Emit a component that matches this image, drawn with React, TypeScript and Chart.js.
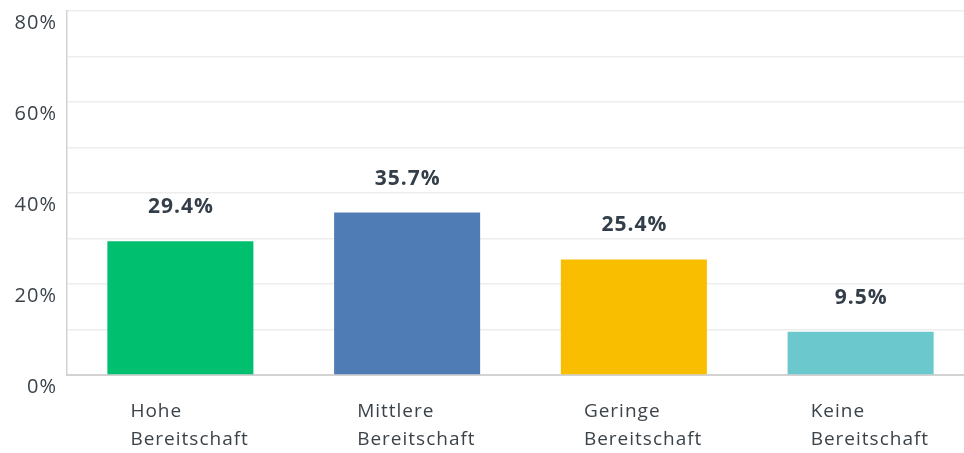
import React, { useEffect, useRef } from "react";
import { Chart, registerables } from "chart.js";

Chart.register(...registerables);

const categories: string[][] = [
  ["Hohe", "Bereitschaft"],
  ["Mittlere", "Bereitschaft"],
  ["Geringe", "Bereitschaft"],
  ["Keine", "Bereitschaft"],
];
const values: number[] = [29.4, 35.7, 25.4, 9.5];
const barColors: string[] = ["#00bf6f", "#507cb6", "#f9be00", "#6bc8cd"];
const yTickLabels: number[] = [0, 20, 40, 60, 80];

const FONT = "'Open Sans', sans-serif";
const TEXT = "#3b434a";

const spacing = {
  id: "spacing",
  beforeDraw(chart: any) {
    chart.ctx.letterSpacing = "1px";
  },
};

const valueLabels = {
  id: "valueLabels",
  afterDatasetsDraw(chart: any) {
    const ctx = chart.ctx;
    const meta = chart.getDatasetMeta(0);
    ctx.save();
    ctx.letterSpacing = "1px";
    ctx.font = `bold 21px ${FONT}`;
    ctx.fillStyle = "#333e48";
    ctx.textAlign = "center";
    ctx.textBaseline = "middle";
    meta.data.forEach((bar: any, i: number) => {
      ctx.fillText(values[i].toFixed(1) + "%", bar.x + 0.5, bar.y - 34);
    });
    ctx.restore();
  },
};

export default function App() {
  const ref = useRef<HTMLCanvasElement>(null);
  useEffect(() => {
    document.body.style.margin = "0";
    document.body.style.overflow = "hidden";
    const chart = new Chart(ref.current!, {
      type: "bar",
      data: {
        labels: categories,
        datasets: [
          {
            data: values,
            backgroundColor: barColors,
            barPercentage: 0.644,
            categoryPercentage: 1,
          },
        ],
      },
      options: {
        animation: false,
        responsive: false,
        devicePixelRatio: 1,
        layout: { padding: { top: 11, right: 0, left: 0, bottom: 0 } },
        plugins: { legend: { display: false }, tooltip: { enabled: false } },
        scales: {
          x: {
            grid: { display: false, drawTicks: false },
            border: { display: true, color: "#d2d2d2", width: 2 },
            ticks: {
              align: "start",
              labelOffset: -50,
              padding: 23,
              maxRotation: 0,
              autoSkip: false,
              color: TEXT,
              font: { family: FONT, size: 19, lineHeight: 28 / 19 },
            },
            afterFit(scale: any) {
              scale.height = 78;
              scale.paddingLeft = 0;
              scale.paddingRight = 0;
            },
          },
          y: {
            min: 0,
            max: 80,
            grid: { color: "#ededed", lineWidth: 1.5, drawTicks: false },
            border: { display: true, color: "#d2d2d2", width: 1.5 },
            ticks: {
              stepSize: 10,
              padding: 10,
              labelOffset: 12,
              color: TEXT,
              font: { family: FONT, size: 20 },
              callback: (v: any) => (yTickLabels.includes(Number(v)) ? v + "%" : ""),
            },
            afterFit(scale: any) {
              scale.width = 67;
              scale.paddingTop = 0;
              scale.paddingBottom = 0;
            },
          },
        },
      },
      plugins: [spacing, valueLabels],
    });
    return () => chart.destroy();
  }, []);
  return (
    <canvas
      ref={ref}
      width={974}
      height={453}
      style={{ position: "fixed", left: 0, top: 0, width: 974, height: 453 }}
    />
  );
}
